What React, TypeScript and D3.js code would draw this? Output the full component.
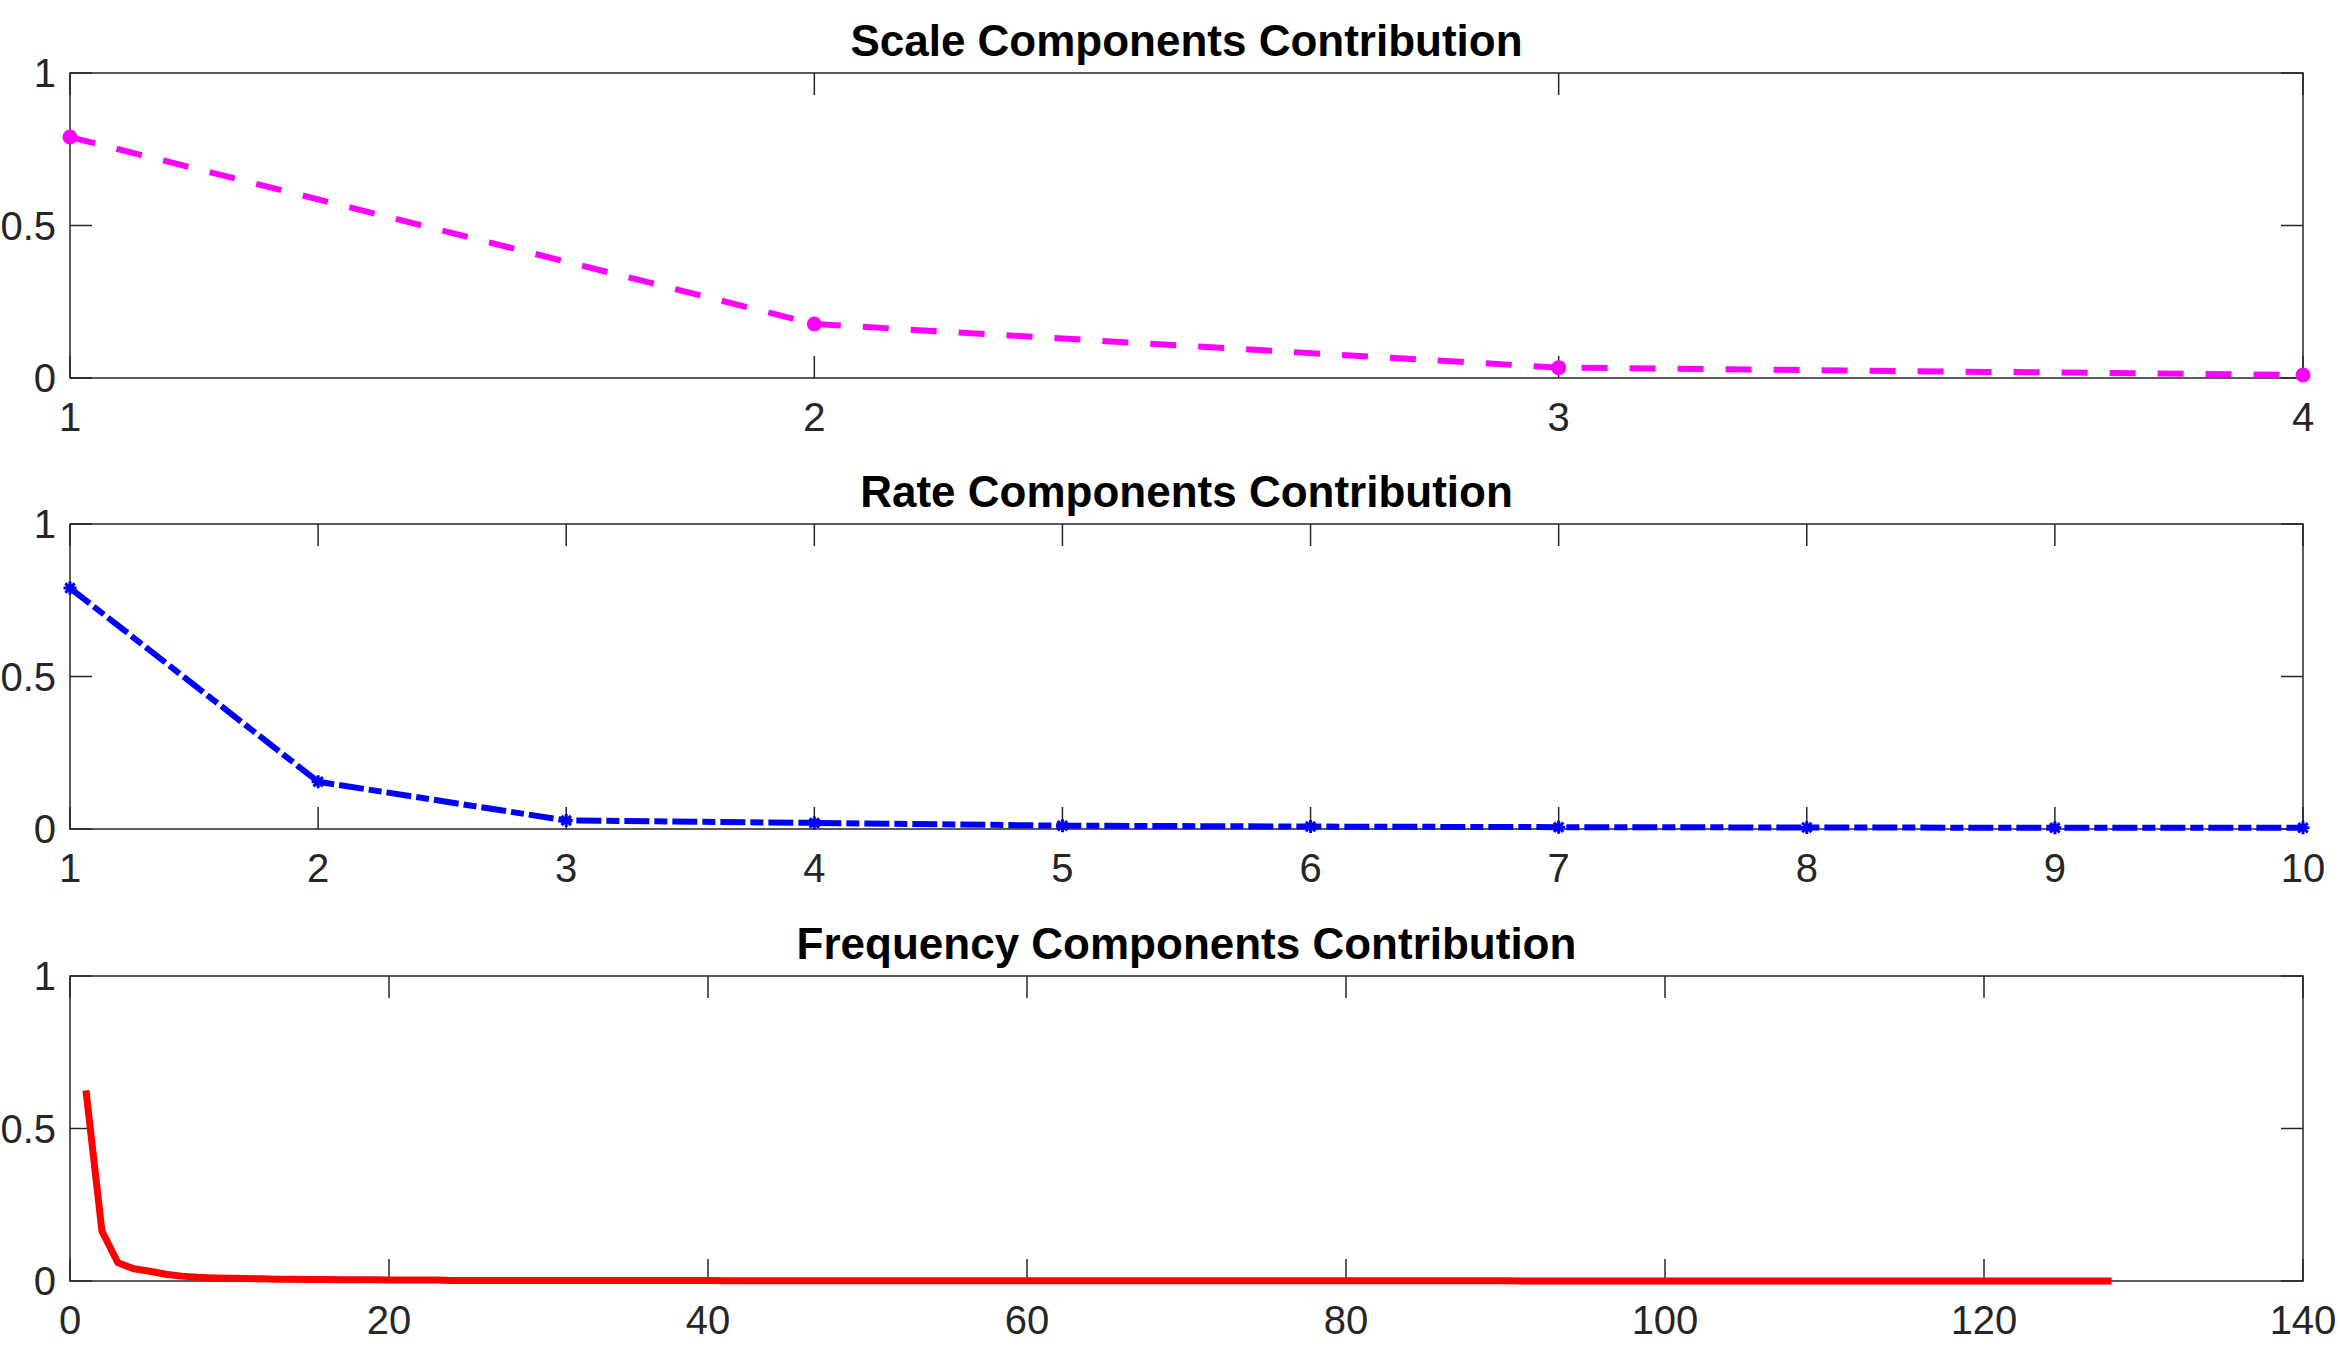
import * as d3 from "d3";

// ── Data ──────────────────────────────────────────────────────────────────────

const scaleX = [1, 2, 3, 4];
const scaleValues = [0.79, 0.177, 0.034, 0.01];

const rateX = [1, 2, 3, 4, 5, 6, 7, 8, 9, 10];
const rateValues = [0.79, 0.155, 0.028, 0.02, 0.011, 0.008, 0.006, 0.005, 0.004, 0.004];

// frequency bins 1..128
const freqValues = [
  0.625, 0.164, 0.06, 0.04, 0.032, 0.022, 0.016, 0.012, 0.01, 0.009,
  0.008, 0.007, 0.006, 0.006, 0.005, 0.005, 0.004, 0.004, 0.004, 0.003,
  0.003, 0.003, 0.003, 0.002, 0.002, 0.002, 0.002, 0.002, 0.002, 0.002,
  0.002, 0.002, 0.002, 0.0015, 0.0015, 0.0015, 0.0015, 0.0015, 0.0015, 0.0015,
  0.0012, 0.0012, 0.0012, 0.0012, 0.0012, 0.0012, 0.0012, 0.0012, 0.001, 0.001,
  0.001, 0.001, 0.001, 0.001, 0.001, 0.001, 0.001, 0.001, 0.001, 0.001,
  0.0008, 0.0008, 0.0008, 0.0008, 0.0008, 0.0008, 0.0008, 0.0008, 0.0008, 0.0008,
  0.0006, 0.0006, 0.0006, 0.0006, 0.0006, 0.0006, 0.0006, 0.0006, 0.0006, 0.0006,
  0.0005, 0.0005, 0.0005, 0.0005, 0.0005, 0.0005, 0.0005, 0.0005, 0.0005, 0.0005,
  0.0004, 0.0004, 0.0004, 0.0004, 0.0004, 0.0004, 0.0004, 0.0004, 0.0004, 0.0004,
  0.0003, 0.0003, 0.0003, 0.0003, 0.0003, 0.0003, 0.0003, 0.0003, 0.0003, 0.0003,
  0.0003, 0.0003, 0.0003, 0.0003, 0.0003, 0.0003, 0.0003, 0.0003, 0.0003, 0.0003,
  0.0002, 0.0002, 0.0002, 0.0002, 0.0002, 0.0002, 0.0002, 0.0002,
];
const freqX = freqValues.map((_, i) => i + 1);

const yTicks = [0, 0.5, 1];
const scaleTicks = [1, 2, 3, 4];
const rateTicks = [1, 2, 3, 4, 5, 6, 7, 8, 9, 10];
const freqTicks = [0, 20, 40, 60, 80, 100, 120, 140];

const titles = [
  "Scale Components Contribution",
  "Rate Components Contribution",
  "Frequency Components Contribution",
];

// ── Layout ────────────────────────────────────────────────────────────────────

const W = 2340;
const H = 1360;
const LEFT = 70;
const RIGHT = 2303;
const PANEL_H = 305;
const TOPS = [73, 524, 976];
const TICK = 22;
const AXIS = "#262626";
const FONT = "'Liberation Sans', Arial, Helvetica, sans-serif";

type Marker = "circle" | "asterisk" | "none";

interface PanelProps {
  top: number;
  title: string;
  xs: number[];
  ys: number[];
  domain: [number, number];
  ticks: number[];
  color: string;
  width: number;
  dash?: string;
  marker: Marker;
}

function Panel({ top, title, xs, ys, domain, ticks, color, width, dash, marker }: PanelProps) {
  const x = d3.scaleLinear().domain(domain).range([LEFT, RIGHT]);
  const y = d3.scaleLinear().domain([0, 1]).range([top + PANEL_H, top]);
  const pts = xs.map((v, i) => [v, ys[i]] as [number, number]);
  const line = d3
    .line<[number, number]>()
    .x((d) => x(d[0]))
    .y((d) => y(d[1]));
  const bottom = top + PANEL_H;
  const s = 6.5;

  return (
    <g>
      <text
        x={(LEFT + RIGHT) / 2}
        y={top - 17}
        textAnchor="middle"
        fontFamily={FONT}
        fontWeight="bold"
        fontSize={44}
        fill="#000"
      >
        {title}
      </text>

      {/* box */}
      <rect
        x={LEFT}
        y={top}
        width={RIGHT - LEFT}
        height={PANEL_H}
        fill="#fff"
        stroke={AXIS}
        strokeWidth={1.5}
      />

      {/* y ticks */}
      {yTicks.map((t) => (
        <g key={"y" + t}>
          <line x1={LEFT} x2={LEFT + TICK} y1={y(t)} y2={y(t)} stroke={AXIS} strokeWidth={1.5} />
          <line x1={RIGHT} x2={RIGHT - TICK} y1={y(t)} y2={y(t)} stroke={AXIS} strokeWidth={1.5} />
          <text
            x={LEFT - 14}
            y={y(t) + 14}
            textAnchor="end"
            fontFamily={FONT}
            fontSize={40}
            fill={AXIS}
          >
            {t}
          </text>
        </g>
      ))}

      {/* x ticks */}
      {ticks.map((t) => (
        <g key={"x" + t}>
          <line x1={x(t)} x2={x(t)} y1={bottom} y2={bottom - TICK} stroke={AXIS} strokeWidth={1.5} />
          <line x1={x(t)} x2={x(t)} y1={top} y2={top + TICK} stroke={AXIS} strokeWidth={1.5} />
          <text
            x={x(t)}
            y={bottom + 53}
            textAnchor="middle"
            fontFamily={FONT}
            fontSize={40}
            fill={AXIS}
          >
            {t}
          </text>
        </g>
      ))}

      <path
        d={line(pts) ?? ""}
        fill="none"
        stroke={color}
        strokeWidth={width}
        strokeDasharray={dash}
        strokeLinejoin="round"
      />

      {marker === "circle" &&
        pts.map((d, i) => (
          <circle key={i} cx={x(d[0])} cy={y(d[1])} r={7.5} fill={color} />
        ))}
      {marker === "asterisk" &&
        pts.map((d, i) => {
          const cx = x(d[0]);
          const cy = y(d[1]);
          const p = `M${cx - s},${cy}L${cx + s},${cy}M${cx},${cy - s}L${cx},${cy + s}` +
            `M${cx - s * 0.72},${cy - s * 0.72}L${cx + s * 0.72},${cy + s * 0.72}` +
            `M${cx - s * 0.72},${cy + s * 0.72}L${cx + s * 0.72},${cy - s * 0.72}`;
          return <path key={i} d={p} stroke={color} strokeWidth={3} fill="none" />;
        })}
    </g>
  );
}

export default function App() {
  return (
    <svg
      width={W}
      height={H}
      style={{ position: "absolute", left: 0, top: 0, background: "#fff" }}
    >
      <rect width={W} height={H} fill="#fff" />
      <Panel
        top={TOPS[0]}
        title={titles[0]}
        xs={scaleX}
        ys={scaleValues}
        domain={[1, 4]}
        ticks={scaleTicks}
        color="#ff00ff"
        width={6}
        dash="26 22"
        marker="circle"
      />
      <Panel
        top={TOPS[1]}
        title={titles[1]}
        xs={rateX}
        ys={rateValues}
        domain={[1, 10]}
        ticks={rateTicks}
        color="#0000ff"
        width={6}
        dash="25 5 13 5"
        marker="asterisk"
      />
      <Panel
        top={TOPS[2]}
        title={titles[2]}
        xs={freqX}
        ys={freqValues}
        domain={[0, 140]}
        ticks={freqTicks}
        color="#ff0000"
        width={7}
        marker="none"
      />
    </svg>
  );
}
